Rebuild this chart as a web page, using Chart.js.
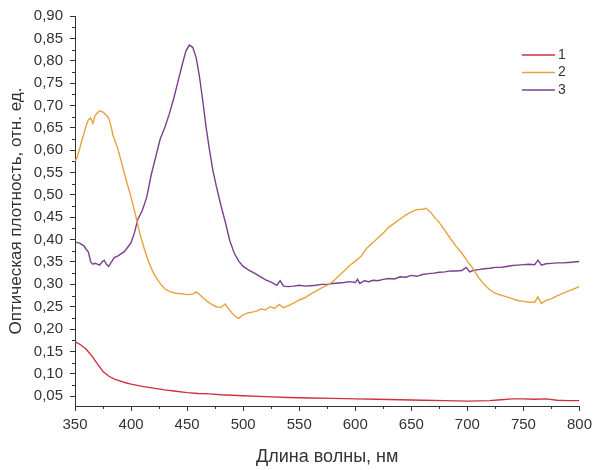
<!DOCTYPE html>
<html>
<head>
<meta charset="utf-8">
<script src="https://cdn.jsdelivr.net/npm/chart.js@4"></script>
<style>
  body { margin: 0; background: #fff; }
</style>
</head>
<body>
<canvas id="spectra-chart" width="597" height="470"></canvas>
<script>
// spectra
const seriesLabels = ['1', '2', '3'];

const wl1 = [350, 355, 360, 365, 370, 375, 380, 385, 390, 395, 400, 410, 420, 430, 440, 450, 460, 470, 480, 490, 500, 520, 540, 560, 580, 600, 620, 640, 660, 680, 700, 720, 730, 740, 750, 760, 770, 780, 790, 800];
const od1 = [0.172, 0.165, 0.155, 0.140, 0.122, 0.105, 0.095, 0.088, 0.084, 0.080, 0.077, 0.072, 0.068, 0.064, 0.061, 0.058, 0.056, 0.055, 0.053, 0.052, 0.051, 0.049, 0.047, 0.046, 0.045, 0.044, 0.043, 0.042, 0.041, 0.040, 0.039, 0.040, 0.042, 0.044, 0.044, 0.043, 0.044, 0.041, 0.040, 0.040];

const wl2 = [350, 352, 356, 360, 362, 364, 366, 368, 370, 372, 375, 378, 380, 382, 384, 388, 392, 396, 400, 404, 408, 412, 416, 420, 425, 430, 435, 440, 445, 450, 455, 458, 460, 464, 468, 472, 476, 480, 484, 487, 490, 493, 496, 500, 504, 508, 512, 516, 520, 524, 528, 532, 536, 540, 545, 550, 555, 560, 565, 570, 575, 580, 585, 590, 595, 600, 605, 610, 615, 620, 625, 630, 635, 640, 645, 650, 655, 660, 663, 667, 670, 675, 680, 685, 690, 695, 700, 705, 710, 715, 720, 725, 730, 735, 740, 745, 750, 755, 760, 763, 766, 770, 775, 780, 785, 790, 795, 800];
const od2 = [0.575, 0.585, 0.620, 0.655, 0.668, 0.672, 0.660, 0.678, 0.683, 0.688, 0.685, 0.678, 0.672, 0.655, 0.632, 0.605, 0.568, 0.530, 0.495, 0.455, 0.412, 0.378, 0.348, 0.325, 0.305, 0.290, 0.283, 0.280, 0.279, 0.277, 0.278, 0.283, 0.280, 0.270, 0.262, 0.255, 0.250, 0.248, 0.256, 0.245, 0.236, 0.228, 0.224, 0.232, 0.236, 0.238, 0.240, 0.245, 0.243, 0.250, 0.246, 0.255, 0.248, 0.252, 0.258, 0.265, 0.270, 0.278, 0.285, 0.292, 0.298, 0.306, 0.318, 0.330, 0.342, 0.352, 0.362, 0.380, 0.392, 0.403, 0.415, 0.428, 0.437, 0.446, 0.455, 0.462, 0.467, 0.468, 0.470, 0.462, 0.452, 0.438, 0.420, 0.402, 0.385, 0.370, 0.352, 0.335, 0.315, 0.300, 0.288, 0.280, 0.276, 0.272, 0.268, 0.264, 0.262, 0.260, 0.260, 0.272, 0.257, 0.264, 0.268, 0.274, 0.280, 0.285, 0.290, 0.295];

const wl3 = [350, 354, 358, 360, 362, 364, 366, 368, 370, 372, 374, 376, 378, 380, 382, 385, 388, 391, 394, 397, 400, 403, 406, 410, 414, 418, 422, 426, 430, 434, 438, 442, 446, 449, 452, 455, 458, 461, 464, 467, 470, 473, 476, 480, 484, 488, 492, 496, 500, 505, 510, 515, 520, 525, 530, 533, 536, 540, 545, 550, 555, 560, 565, 570, 575, 580, 585, 590, 595, 600, 602, 604, 608, 612, 616, 620, 625, 630, 635, 640, 645, 650, 655, 660, 665, 670, 675, 680, 685, 690, 695, 699, 702, 705, 710, 715, 720, 725, 730, 735, 740, 745, 750, 755, 760, 763, 766, 770, 775, 780, 785, 790, 795, 800];
const od3 = [0.395, 0.392, 0.386, 0.378, 0.372, 0.350, 0.345, 0.347, 0.345, 0.343, 0.350, 0.354, 0.345, 0.340, 0.348, 0.360, 0.363, 0.368, 0.373, 0.383, 0.393, 0.415, 0.445, 0.465, 0.495, 0.545, 0.585, 0.625, 0.650, 0.680, 0.715, 0.755, 0.795, 0.822, 0.835, 0.830, 0.808, 0.765, 0.710, 0.650, 0.600, 0.555, 0.520, 0.478, 0.440, 0.398, 0.370, 0.352, 0.340, 0.332, 0.325, 0.318, 0.310, 0.305, 0.298, 0.308, 0.296, 0.295, 0.296, 0.298, 0.296, 0.297, 0.298, 0.300, 0.300, 0.302, 0.303, 0.304, 0.306, 0.304, 0.311, 0.302, 0.308, 0.306, 0.309, 0.308, 0.311, 0.313, 0.312, 0.317, 0.316, 0.320, 0.318, 0.322, 0.324, 0.325, 0.327, 0.328, 0.330, 0.330, 0.331, 0.338, 0.328, 0.331, 0.333, 0.335, 0.336, 0.338, 0.338, 0.340, 0.342, 0.343, 0.344, 0.345, 0.344, 0.354, 0.343, 0.346, 0.347, 0.348, 0.348, 0.349, 0.350, 0.351];

const xTicks = [350, 400, 450, 500, 550, 600, 650, 700, 750, 800];
const xMinor = [375, 425, 475, 525, 575, 625, 675, 725, 775];
const yTicks = [0.05, 0.10, 0.15, 0.20, 0.25, 0.30, 0.35, 0.40, 0.45, 0.50, 0.55, 0.60, 0.65, 0.70, 0.75, 0.80, 0.85, 0.90];
const yMinor = [0.075, 0.125, 0.175, 0.225, 0.275, 0.325, 0.375, 0.425, 0.475, 0.525, 0.575, 0.625, 0.675, 0.725, 0.775, 0.825, 0.875];

const lineColors = ['#d0303c', '#e9a23b', '#7b3f8e'];
const axisColor = '#333333';
const fontFamily = "'Liberation Sans', Arial, sans-serif";

function toPoints(xs, ys) {
    return xs.map((x, i) => ({ x: x, y: ys[i] }));
}

// small extra ticks between the labelled ones
const minorTicks = {
    id: 'minorTicks',
    afterDraw(chart) {
        const ctx = chart.ctx;
        const xs = chart.scales.x, ys = chart.scales.y, area = chart.chartArea;
        ctx.save();
        ctx.strokeStyle = axisColor;
        ctx.lineWidth = 1;
        ctx.beginPath();
        xMinor.forEach(v => {
            const px = Math.round(xs.getPixelForValue(v)) + 0.5;
            ctx.moveTo(px, area.bottom);
            ctx.lineTo(px, area.bottom + 3);
        });
        yMinor.forEach(v => {
            const py = Math.round(ys.getPixelForValue(v)) + 0.5;
            ctx.moveTo(area.left, py);
            ctx.lineTo(area.left - 3, py);
        });
        ctx.stroke();
        ctx.restore();
    }
};

// legend inside the plot, top right
const insideLegend = {
    id: 'insideLegend',
    afterDraw(chart) {
        const ctx = chart.ctx;
        ctx.save();
        ctx.font = '14px ' + fontFamily;
        ctx.textBaseline = 'middle';
        ctx.fillStyle = axisColor;
        chart.data.datasets.forEach((ds, i) => {
            const y = 55 + i * 17.5;
            ctx.strokeStyle = ds.borderColor;
            ctx.lineWidth = 1.3;
            ctx.beginPath();
            ctx.moveTo(522, y);
            ctx.lineTo(555, y);
            ctx.stroke();
            ctx.fillText(ds.label, 558, y);
        });
        ctx.restore();
    }
};

function initChart() {
    const ctx = document.getElementById('spectra-chart').getContext('2d');
    const series = [[wl1, od1], [wl2, od2], [wl3, od3]];

    return new Chart(ctx, {
        type: 'line',
        data: {
            datasets: series.map((s, i) => ({
                label: seriesLabels[i],
                data: toPoints(s[0], s[1]),
                borderColor: lineColors[i],
                backgroundColor: lineColors[i],
                borderWidth: 1.4,
                pointRadius: 0,
                tension: 0,
                fill: false
            }))
        },
        options: {
            responsive: false,
            animation: false,
            layout: { padding: { top: 16, right: 14, left: 0, bottom: 0 } },
            plugins: { legend: { display: false }, tooltip: { enabled: false } },
            scales: {
                x: {
                    type: 'linear',
                    min: 350,
                    max: 800,
                    afterBuildTicks: scale => { scale.ticks = xTicks.map(v => ({ value: v })); },
                    afterFit: scale => { scale.height = 64; },
                    grid: { drawOnChartArea: false, drawTicks: true, tickLength: 5, color: axisColor },
                    border: { display: true, color: axisColor, width: 1 },
                    ticks: { color: axisColor, padding: 5, maxRotation: 0, font: { family: fontFamily, size: 15 } },
                    title: {
                        display: true,
                        text: 'Длина волны, нм',
                        color: axisColor,
                        padding: { top: 0, bottom: 2 },
                        font: { family: fontFamily, size: 18 }
                    }
                },
                y: {
                    type: 'linear',
                    min: 0.028,
                    max: 0.9,
                    afterBuildTicks: scale => { scale.ticks = yTicks.map(v => ({ value: v })); },
                    afterFit: scale => { scale.width = 75; },
                    grid: { drawOnChartArea: false, drawTicks: true, tickLength: 5, color: axisColor },
                    border: { display: true, color: axisColor, width: 1 },
                    ticks: {
                        color: axisColor,
                        padding: 7,
                        font: { family: fontFamily, size: 15 },
                        callback: value => value.toFixed(2).replace('.', ',')
                    },
                    title: {
                        display: true,
                        text: 'Оптическая плотность, отн. ед.',
                        color: axisColor,
                        padding: { top: 6, bottom: 2 },
                        font: { family: fontFamily, size: 17 }
                    }
                }
            }
        },
        plugins: [minorTicks, insideLegend]
    });
}

document.addEventListener('DOMContentLoaded', () => {
    initChart();
});
</script>
</body>
</html>
